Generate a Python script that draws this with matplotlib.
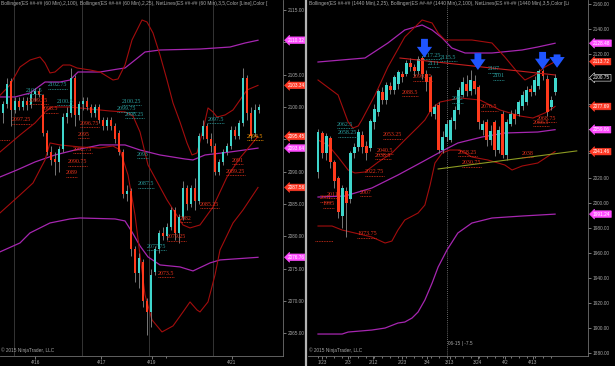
import matplotlib
matplotlib.use("Agg")
import matplotlib.pyplot as plt
import matplotlib.transforms as mtransforms
from matplotlib.lines import Line2D

# ---------------- 60 min panel (left) ----------------
l_open = [2099, 2100.5, 2104, 2099.5, 2101, 2100, 2101, 2100.3, 2102, 2102.5,
          2101.8, 2096, 2093, 2092, 2091.5, 2093.5, 2098.5, 2099, 2104.5, 2098.8,
          2100.5, 2101, 2100, 2099, 2100, 2098, 2097, 2098, 2097, 2096,
          2093, 2086.5, 2087, 2078, 2074.4, 2076, 2070, 2068.3, 2074.5, 2078,
          2080.5, 2080, 2081.5, 2084, 2080.5, 2083, 2087.5, 2085, 2087.5, 2085.5,
          2095.5, 2097, 2095, 2094, 2090, 2091.5, 2093, 2094, 2096.5, 2095.5,
          2097.5, 2104.5, 2099, 2096, 2099.5]
l_high = [2101, 2104.5, 2104.5, 2101.5, 2101.5, 2101.5, 2101.5, 2102.5, 2103, 2103,
          2102, 2096.5, 2094, 2093, 2094, 2099, 2100, 2106, 2105, 2101,
          2101.5, 2101.5, 2100.5, 2100.5, 2100.5, 2098.5, 2098.5, 2098.5, 2097.5, 2096.5,
          2093.5, 2088, 2087.5, 2078.5, 2077.5, 2076.5, 2070.5, 2075, 2078.5, 2081,
          2081.5, 2082, 2084.5, 2084.5, 2083.5, 2088.5, 2088, 2088, 2089, 2096,
          2098, 2097.5, 2096, 2094.5, 2092, 2093.5, 2094.5, 2097, 2097, 2098,
          2106, 2105, 2100, 2100.5, 2100.5]
l_low = [2097.5, 2099.8, 2097, 2099, 2099.5, 2099.5, 2099.5, 2099.8, 2101, 2101.5,
         2095.5, 2092.5, 2091, 2089.5, 2090, 2093, 2097.5, 2098.5, 2097, 2098,
         2099.5, 2099.5, 2098.5, 2098.5, 2097.5, 2096.5, 2096.5, 2096.5, 2094.5, 2092.5,
         2086, 2085.5, 2077, 2073, 2072, 2069, 2064.8, 2066, 2074, 2077.5,
         2079.5, 2079.5, 2081, 2079.5, 2079, 2082.5, 2084, 2084.5, 2084, 2085,
         2095, 2094.5, 2093, 2089.5, 2089.5, 2091, 2092.5, 2093.5, 2095, 2095,
         2097, 2098, 2095, 2095.5, 2099]
l_close = [2100.5, 2103.5, 2099.5, 2101, 2100, 2101, 2100.3, 2102, 2102.5, 2101.8,
           2096, 2093, 2091.8, 2091.5, 2093.5, 2098.5, 2099, 2104.5, 2098.8, 2100.5,
           2101, 2100, 2099, 2100, 2098, 2097, 2098, 2097, 2095, 2093,
           2086.5, 2087, 2078, 2074.4, 2076.7, 2070, 2068.3, 2074, 2078, 2080.5,
           2080, 2081.5, 2084, 2080.5, 2083, 2087.5, 2085, 2087.5, 2085.5, 2095.5,
           2097, 2095, 2094, 2090, 2091.5, 2093, 2094, 2096.5, 2095.5, 2097.5,
           2104.5, 2099, 2095.5, 2099.5, 2100]

# Bollinger(2,25) upper / middle / lower  (bar index, price)
l_up_x = [-0.75, 1.75, 4.25, 6.75, 9.25, 10.5, 11.75, 13, 15, 16.75, 18.5, 21.75, 24.25, 27.5,
          28.75, 30.5, 32.25, 34.75, 36, 37.5, 39.25, 41, 42.5, 44.25, 46, 47.25, 48.5, 50,
          51.25, 52.5, 53.5, 55.5, 57.5, 59.25, 61, 63.75]
l_up_p = [2101.8, 2103.4, 2106.18, 2107.26, 2107.73, 2106.8, 2105.26, 2105.41, 2106.49, 2106.49,
          2106.03, 2105.72, 2105.41, 2104.17, 2104.33, 2106.49, 2110.36, 2113.45, 2113.14, 2111.44,
          2108.04, 2104.17, 2100.62, 2097.68, 2094.44, 2092.58, 2092.89, 2096.45, 2099.85, 2099.23,
          2098.45, 2098.76, 2099.54, 2101.08, 2102.63, 2103.34]
l_mid_x = [-0.75, 4.25, 8, 10.5, 12.25, 16.75, 21.75, 26.75, 30.5, 32.5, 34.25, 36.25, 41, 45,
           46.75, 49.25, 52.5, 56, 59.25, 61.75, 63.75]
l_mid_p = [2093.04, 2095.67, 2097.53, 2099.23, 2100.0, 2100.0, 2099.69, 2099.38, 2099.23, 2098.61,
           2096.14, 2091.04, 2085.63, 2081.76, 2081.3, 2081.76, 2084.54, 2089.18, 2092.12, 2093.97,
           2095.45]
l_lo_x = [-0.75, 4.25, 7.5, 10.5, 11.75, 14.25, 19.25, 24.25, 27.5, 29.25, 31.25, 33, 34.25, 35.5,
          37.25, 39.75, 42.5, 45, 46.75, 48.5, 49.25, 51.25, 53, 54.25, 57.5, 60, 63.75]
l_lo_p = [2083.62, 2086.4, 2088.25, 2091.81, 2094.44, 2094.13, 2093.82, 2093.66, 2093.97, 2093.35,
          2089.49, 2083.31, 2077.13, 2070.94, 2067.08, 2065.22, 2066.15, 2068.31, 2069.86, 2068.62,
          2068.31, 2069.86, 2074.03, 2077.9, 2082.07, 2084.08, 2087.56]

# Bollinger(2,100) upper / middle / lower
l_bu_x = [-0.75, 3, 6.75, 10.5, 14.25, 16.75, 18.75, 24.25, 28.75, 30.5, 33, 35.5, 39.25, 49.25,
          56.75, 60.5, 63.75]
l_bu_p = [2101.55, 2101.55, 2102.16, 2103.86, 2103.86, 2104.17, 2105.41, 2105.41, 2105.87, 2106.03,
          2107.26, 2108.5, 2108.81, 2108.96, 2109.27, 2109.89, 2110.32]
l_bm_x = [-0.75, 3.5, 8, 13, 18, 24.25, 30.5, 34.25, 39.25, 45.5, 47.5, 50.5, 56.75, 63.75]
l_bm_p = [2089.18, 2090.26, 2091.5, 2092.58, 2093.35, 2094.13, 2094.13, 2093.35, 2092.58, 2091.96,
          2091.81, 2092.58, 2093.04, 2093.64]
l_bl_x = [-0.75, 4.25, 6.75, 11.75, 16.75, 19.25, 28, 30.5, 32.25, 34.25, 36.25, 39.25, 44.25,
          47.5, 51.75, 54.25, 63.75]
l_bl_p = [2077.6, 2078.98, 2080.53, 2082.07, 2082.69, 2082.84, 2082.69, 2082.38, 2080.68, 2078.52,
          2076.82, 2075.58, 2075.27, 2074.65, 2075.89, 2076.35, 2076.76]

l_lbl_x = [11.25, 5.75, 6.5, 9.75, 2.25, 13.5, 29.75, 28.5, 30.5, 19.25, 18.75, 17.5, 16.25,
           15.75, 33.5, 33.75, 36, 41, 44.25, 38.75, 49.25, 57.25, 55.75, 61, 51.25]
l_lbl_p = [2103.4, 2102.6, 2101.0, 2099.7, 2098.0, 2100.8, 2100.9, 2099.8, 2098.8, 2097.5,
           2095.7, 2093.5, 2091.5, 2089.8, 2092.6, 2088.1, 2078.5, 2079.9, 2082.7, 2074.3,
           2085.0, 2091.8, 2090.0, 2095.4, 2098.1]
l_lbl_txt = ["2102.75", "2101.5", "2099.25", "2098.5", "2097.25", "2100.5", "2100.25", "2099.75",
             "2098.25", "2096.75", "2095", "2092.75", "2090.75", "2089", "2093", "2087.5",
             "2077.75", "2079.25", "2082", "2073.5", "2085.25", "2091", "2089.25", "2094.5", "2097.5"]
l_lbl_kind = ['t', 't', 'r', 'r', 'r', 't', 't', 't', 't', 'r', 'r', 'r', 'r', 'r', 't', 't',
              't', 'r', 'r', 'r', 'r', 'r', 'r', 'o', 't']

l_tag_p = [2110.32, 2103.34, 2095.45, 2093.64, 2087.56, 2076.76]
l_tag_kind = ['m', 'r', 'r', 'm', 'r', 'm']

l_yticks = [2065, 2070, 2075, 2080, 2085, 2090, 2095, 2100, 2105, 2110, 2115]
l_yhidden = [2095, 2110]          # covered by the price tags
l_xtick_pos = [8.1, 24.6, 37.2, 57.2]
l_xtick_lbl = ['4/16', '4/17', '4/19', '4/21']
l_sessions = [2.75, 19.75, 36.5, 52.5]

# ---------------- daily panel (right) ----------------
r_open = [2025, 2056, 2040, 2052, 2033, 2020, 1990, 2010, 2003, 2040,
          2045, 2055, 2046, 2044, 2065, 2073, 2089, 2083, 2094, 2091,
          2096, 2104, 2104, 2113, 2109, 2106, 2117, 2104, 2101, 2072,
          2079, 2043, 2053, 2051, 2066, 2075, 2087, 2096, 2090, 2098,
          2093, 2059, 2065, 2051, 2065, 2043, 2072, 2039, 2064, 2072,
          2072, 2078, 2081, 2092, 2089, 2094, 2106, 2100, 2077, 2089]
r_high = [2060, 2058, 2056, 2054, 2035, 2022, 2015, 2013, 2042, 2048,
          2060, 2058, 2050, 2068, 2080, 2092, 2093, 2097, 2097, 2103,
          2107, 2106, 2115, 2117, 2112, 2118, 2118, 2107, 2103, 2080,
          2081, 2058, 2067, 2069, 2078, 2093, 2101, 2103, 2107, 2103,
          2095, 2067, 2068, 2063, 2067, 2062, 2074, 2068, 2075, 2076,
          2083, 2090, 2094, 2095, 2102, 2108, 2108, 2103, 2086, 2104]
r_low = [2020, 2036, 2035, 2028, 2012, 1988, 1980, 1973, 2000, 2036,
         2042, 2040, 2035, 2042, 2060, 2070, 2080, 2080, 2088, 2088,
         2092, 2097, 2102, 2106, 2102, 2104, 2100, 2090, 2070, 2068,
         2040, 2040, 2050, 2049, 2060, 2072, 2085, 2086, 2087, 2088,
         2060, 2055, 2046, 2047, 2038, 2040, 2036, 2035, 2062, 2064,
         2070, 2075, 2079, 2086, 2087, 2092, 2099, 2070, 2075, 2087]
r_close = [2057, 2040, 2054, 2033, 2018, 1993, 2012, 2000, 2040, 2045,
           2057, 2045, 2040, 2066, 2076, 2090, 2083, 2095, 2091, 2101,
           2105, 2101, 2113, 2109, 2106, 2116, 2104, 2097, 2073, 2077,
           2043, 2053, 2064, 2067, 2075, 2091, 2097, 2090, 2099, 2092,
           2065, 2064, 2051, 2058, 2043, 2059, 2039, 2065, 2072, 2068,
           2081, 2087, 2091, 2089, 2099, 2106, 2102, 2073, 2083, 2100.75]

r_up_x = [0, 5.0, 7.5, 8.7, 10.0, 10.9, 14.2, 17.4, 21.6, 25.9, 28.4, 29.9, 31.6, 38.3, 43.3,
          46.5, 49.8, 51.5, 54.0, 56.5, 59]
r_up_p = [2098.96, 2086.91, 2065.22, 2060.4, 2062.01, 2066.83, 2086.91, 2109.4, 2133.49, 2147.15,
          2144.74, 2136.71, 2131.08, 2131.08, 2128.68, 2117.43, 2104.58, 2098.96, 2102.97, 2109.4,
          2113.72]
r_mid_x = [0, 2.5, 5.0, 7.5, 9.2, 11.7, 15.0, 18.4, 21.6, 24.9, 26.6, 28.4, 30.4, 35.3, 40.3,
           45.3, 50.3, 53.5, 57.0, 59]
r_mid_p = [2050.76, 2046.75, 2037.11, 2026.67, 2024.26, 2025.06, 2033.09, 2040.32, 2050.76, 2061.21,
           2066.83, 2076.47, 2081.29, 2084.5, 2082.89, 2074.86, 2070.04, 2068.43, 2073.25, 2077.69]
r_lo_x = [0, 3.5, 6.0, 9.2, 13.4, 16.7, 18.4, 19.9, 21.6, 24.9, 26.6, 27.9, 29.1, 30.9, 32.8,
          35.3, 38.3, 42.3, 46.5, 48.3, 50.8, 54.7, 59]
r_lo_p = [1981.69, 1981.69, 1978.48, 1976.06, 1972.85, 1968.03, 1969.64, 1978.48, 1986.51, 1992.13,
          1998.56, 2014.62, 2032.29, 2040.32, 2042.73, 2042.73, 2037.11, 2034.7, 2030.68, 2026.67,
          2029.88, 2032.29, 2041.46]

r_bu_x = [0, 11.7, 17.4, 21.6, 25.9, 28.4, 30.9, 33.3, 36.6, 43.3, 50.8, 54.7, 59]
r_bu_p = [2113.41, 2116.63, 2128.68, 2139.12, 2143.13, 2139.12, 2132.69, 2124.66, 2120.64, 2120.64,
          2123.05, 2125.46, 2128.48]
r_bm_x = [0, 6.7, 13.4, 19.9, 25.9, 30.9, 34.8, 40.8, 46.5, 54.7, 59]
r_bm_p = [2004.98, 2005.78, 2012.21, 2022.65, 2033.09, 2041.93, 2048.35, 2053.17, 2056.39, 2057.19,
          2059.06]
r_bl_x = [0, 6, 7.5, 13.4, 16.7, 19.9, 21.6, 23.4, 24.9, 26.6, 28.4, 29.9, 32.1, 34.8, 38.3,
          43.3, 50.8, 59]
r_bl_p = [1894.94, 1894.94, 1896.55, 1898.15, 1899.76, 1903.78, 1904.58, 1907.79, 1912.61, 1922.25,
          1935.9, 1948.75, 1962.41, 1976.06, 1984.09, 1988.11, 1989.72, 1991.24]

# drawn trend lines (start/end)
r_res_x = [20.4, 59.0]
r_res_p = [2116.6, 2103.0]
r_sup_x = [29.9, 64.4]
r_sup_p = [2027.5, 2042.0]

r_arrow_x = [26.5, 39.8, 55.9, 59.5]
r_arrow_top = [2132.0, 2120.5, 2121.5, 2119.5]
r_arrow_tip = [2117.0, 2107.0, 2107.5, 2108.8]

r_lbl_x = [25.9, 30.4, 27.4, 23.6, 20.9, 42.3, 43.5, 33.3, 40.6, 54.5, 53.5, 4.7, 5.0, 16.2,
           14.7, 14.2, 11.7, 10.4, 2.2, 0.5, 1.2, 9.7, 34.8, 35.8, 50.8]
r_lbl_p = [2119.0, 2117.4, 2112.6, 2101.4, 2089.3, 2107.8, 2102.2, 2083.7, 2077.3, 2068.4,
           2065.2, 2063.6, 2056.4, 2054.8, 2042.7, 2038.7, 2025.1, 2009.0, 2007.4, 2004.2,
           1999.4, 1975.3, 2041.1, 2032.3, 2040.3]
r_lbl_txt = ["2117.25", "2115.5", "2111", "2099.75", "2088.5", "2107", "2101", "2082", "2076.5",
             "2068.75", "2066.5", "2062.5", "2058.25", "2053.25", "2040.5", "2038.5", "2022.75",
             "2007", "2011", "2001", "1995", "1973.75", "2058.25", "2030.75", "2038"]
r_lbl_kind = ['t', 't', 't', 'r', 'r', 't', 't', 't', 'r', 'r', 'r', 't', 't', 'r', 'r', 'r',
              'r', 'r', 'r', 'r', 'r', 'r', 'r', 'r', 'r']

r_tag_p = [2128.48, 2113.72, 2100.75, 2077.69, 2059.06, 2041.46, 1991.24]
r_tag_kind = ['m', 'r', 'k', 'r', 'm', 'r', 'm']

r_yticks = list(range(1880, 2161, 20))
r_yhidden = [2040, 2060, 2080, 2100]
r_xtick_pos = [1.0, 7.5, 13.7, 20.9, 27.1, 32.8, 39.8, 46.5, 53.5]
r_xtick_lbl = ['1/23', '2/3', '2/12', '2/23', '3/4', '3/13', '3/24', '4/2', '4/13']

# ---------------- styling ----------------
UP = '#3fd6cc'
DOWN = '#ff3a1c'
WICK = '#8a8a8a'
BAND = '#a30d0d'
BOLL = '#a626b0'
GRAY = '#a8a8a8'
LBL = {'t': '#2b9e9e', 'r': '#e5321c', 'o': '#ff9a00'}
TAG = {'m': ('#ff4cff', 'white', '#ff4cff'), 'r': ('#ff3a26', 'white', '#ff3a26'),
       'k': ('black', 'white', 'white')}

plt.rcParams['font.family'] = ['Liberation Sans', 'DejaVu Sans']

fig = plt.figure(figsize=(6.15, 3.66), dpi=100, facecolor='black')
axL = fig.add_axes([0 / 615, 10 / 366, 283 / 615, 356 / 366])
axR = fig.add_axes([308 / 615, 10 / 366, 280 / 615, 356 / 366])


def candles(ax, o, h, l, c, minh):
    xs = list(range(len(o)))
    ax.vlines(xs, l, h, color=WICK, lw=0.6, zorder=3)
    for i in xs:
        col = UP if c[i] >= o[i] else DOWN
        ax.bar(i, max(abs(c[i] - o[i]), minh), bottom=min(o[i], c[i]), width=0.74,
               color=col, lw=0, zorder=4)


def labels(ax, xs, ps, txts, kinds, span):
    under = mtransforms.offset_copy(ax.transData, fig=fig, y=-3.6, units='dots')
    for x, p, s, k in zip(xs, ps, txts, kinds):
        ax.text(x, p, s, fontsize=4.3, color=LBL[k], family='Liberation Serif',
                ha='left', va='center', zorder=6)
        ax.plot([x, x + len(s) * span], [p, p], transform=under, color=LBL[k],
                lw=0.6, ls=(0, (1, 1)), zorder=6)


def tags(ax, ps, kinds):
    for p, k in zip(ps, kinds):
        fc, tc, ec = TAG[k]
        ax.text(1.018, p, f'{p:.2f}', transform=ax.get_yaxis_transform(), fontsize=3.4,
                color=tc, ha='left', va='center', zorder=10, clip_on=False,
                bbox=dict(boxstyle='larrow,pad=0.18', fc=fc, ec=ec, lw=0.4))


def frame(ax, xlim, ylim, yt, hidden, title):
    ax.set_facecolor('black')
    ax.set_xlim(*xlim)
    ax.set_ylim(*ylim)
    ax.yaxis.tick_right()
    ax.set_yticks(yt)
    ax.set_yticklabels(['' if v in hidden else f'{v:.2f}' for v in yt])
    for s in ['left', 'top']:
        ax.spines[s].set_visible(False)
    for s in ['right', 'bottom']:
        ax.spines[s].set_color('#707070')
        ax.spines[s].set_linewidth(0.6)
    ax.tick_params(axis='both', which='both', colors=GRAY, labelsize=3.4, length=2,
                   width=0.5, pad=1.2)
    ax.tick_params(axis='x', which='minor', length=1.5)
    ax.text(0.004, 0.996, title, transform=ax.transAxes, fontsize=3.5, color=GRAY,
            ha='left', va='top', zorder=8)
    ax.text(0.004, 0.008, '\u00a9 2015 NinjaTrader, LLC', transform=ax.transAxes,
            fontsize=3.4, color=GRAY, ha='left', va='bottom', zorder=8)


# ---- left panel ----
frame(axL, (-0.75, 70), (2061.5, 2116.54), l_yticks, l_yhidden,
      'Bollinger(ES ##-## (60 Min),2,100), Bollinger(ES ##-## (60 Min),2,25), '
      'NetLines(ES ##-## (60 Min),3,5,Color [Line],Color [')
for s in l_sessions:
    axL.axvline(s, color='#3c3c3c', lw=0.6, zorder=1)
axL.plot(l_bu_x, l_bu_p, color=BOLL, lw=0.9, zorder=2)
axL.plot(l_bm_x, l_bm_p, color=BOLL, lw=0.9, zorder=2)
axL.plot(l_bl_x, l_bl_p, color=BOLL, lw=0.9, zorder=2)
axL.plot(l_up_x, l_up_p, color=BAND, lw=0.8, zorder=2)
axL.plot(l_mid_x, l_mid_p, color=BAND, lw=0.8, zorder=2)
axL.plot(l_lo_x, l_lo_p, color=BAND, lw=0.8, zorder=2)
candles(axL, l_open, l_high, l_low, l_close, 0.12)
labels(axL, l_lbl_x, l_lbl_p, l_lbl_txt, l_lbl_kind, 0.68)
axL.plot([-0.75, 1.75], [2094.9, 2094.9], color=LBL['r'], lw=0.6, ls=(0, (1, 1)))
tags(axL, l_tag_p, l_tag_kind)
axL.set_xticks(l_xtick_pos)
axL.set_xticklabels(l_xtick_lbl)
axL.set_xticks([40.75], minor=True)

# ---- right panel ----
frame(axR, (-2.49, 67.2), (1877.3, 2163.2), r_yticks, r_yhidden,
      'Bollinger(ES ##-## (1440 Min),2,25), Bollinger(ES ##-## (1440 Min),2,100), '
      'NetLines(ES ##-## (1440 Min),3,5,Color [Li')
axR.axvline(32.1, color='#8a8a8a', lw=0.6, ls=(0, (1, 1.5)), zorder=1)
axR.plot(r_bu_x, r_bu_p, color=BOLL, lw=0.9, zorder=2)
axR.plot(r_bm_x, r_bm_p, color=BOLL, lw=0.9, zorder=2)
axR.plot(r_bl_x, r_bl_p, color=BOLL, lw=0.9, zorder=2)
axR.plot(r_up_x, r_up_p, color=BAND, lw=0.8, zorder=2)
axR.plot(r_mid_x, r_mid_p, color=BAND, lw=0.8, zorder=2)
axR.plot(r_lo_x, r_lo_p, color=BAND, lw=0.8, zorder=2)
axR.plot(r_res_x, r_res_p, color='#c41e1e', lw=0.8, zorder=5)
axR.plot(r_sup_x, r_sup_p, color='#8c9a22', lw=0.8, zorder=5)
candles(axR, r_open, r_high, r_low, r_close, 0.6)
labels(axR, r_lbl_x, r_lbl_p, r_lbl_txt, r_lbl_kind, 0.68)
axR.plot([-0.75, 3.7], [1969.6, 1969.6], color=LBL['r'], lw=0.6, ls=(0, (1, 1)))
for x, top, tip in zip(r_arrow_x, r_arrow_top, r_arrow_tip):
    axR.annotate('', xy=(x, tip), xytext=(x, top), zorder=9,
                 arrowprops=dict(arrowstyle='simple,head_width=1.0,head_length=0.7,tail_width=0.45',
                                 color='#1f55ff', lw=0, mutation_scale=11,
                                 shrinkA=0, shrinkB=0))
axR.text(32.3, 1887.7, '06-15 | -7.5', fontsize=3.4, color=GRAY, ha='left', va='center')
tags(axR, r_tag_p, r_tag_kind)
axR.set_xticks(r_xtick_pos)
axR.set_xticklabels(r_xtick_lbl)
axR.set_xticks(list(range(0, 60, 2)), minor=True)

# panel separator
fig.add_artist(Line2D([305.5 / 615, 305.5 / 615], [0, 1], color='#b4b4b4', lw=1.6))

fig.savefig('out.png', dpi=100, facecolor='black')
